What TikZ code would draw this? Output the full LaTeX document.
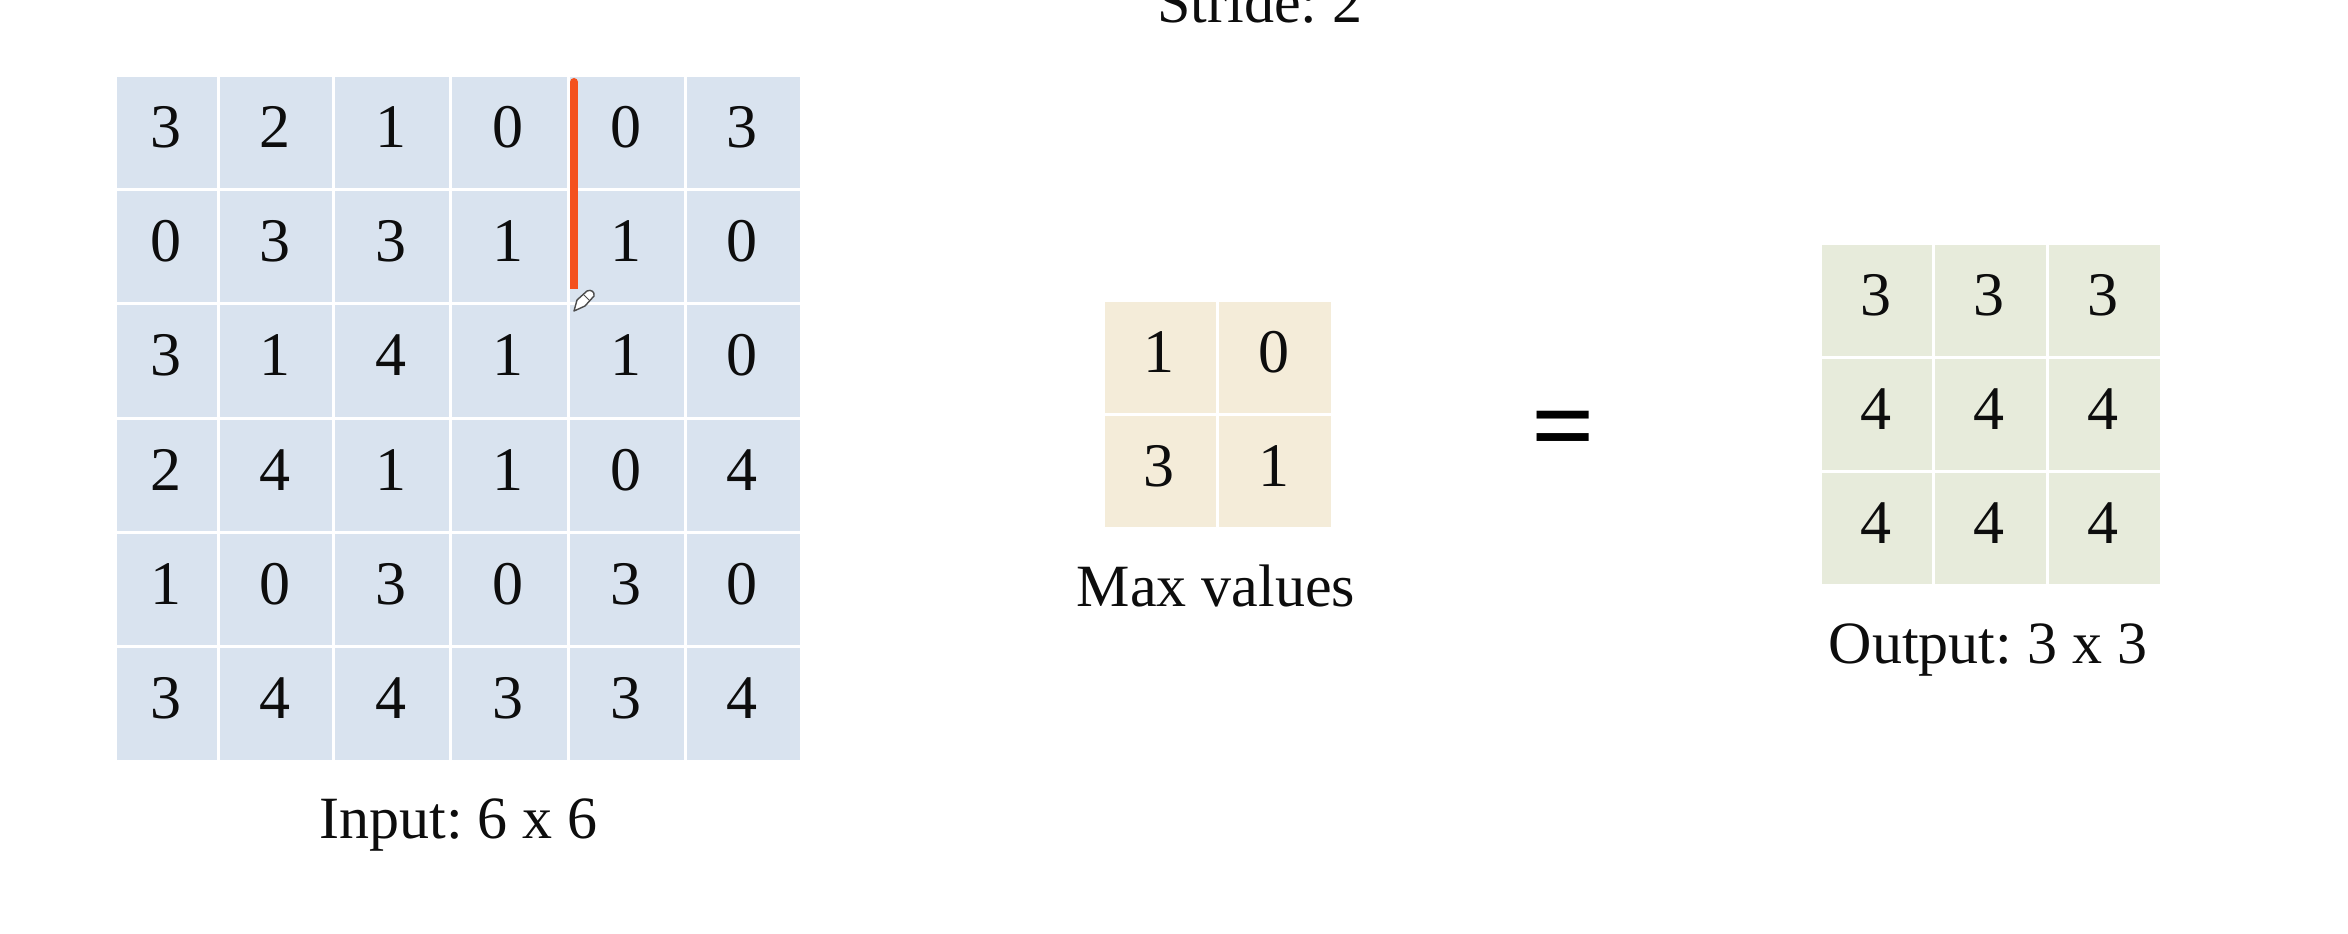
\documentclass[tikz,border=0pt]{standalone}
\usepackage{fontspec}
\setmainfont{Liberation Serif}
\frenchspacing
\definecolor{inputcell}{HTML}{D9E3EF}
\definecolor{maxcell}{HTML}{F4ECD9}
\definecolor{outcell}{HTML}{E7EBDB}
\definecolor{penred}{HTML}{F4511E}
\definecolor{inktext}{HTML}{0D0D0D}
\tikzset{
  cellbox/.style={rectangle,inner sep=0pt,outer sep=0pt,align=center,text=inktext,
    font=\fontsize{62}{62}\selectfont},
  caption/.style={anchor=base,inner sep=0pt,text=inktext,font=\fontsize{60}{60}\selectfont},
}
% name, x edges array, y edges array, column, row, value, fill
\newcommand{\gridcell}[7]{%
  \pgfmathsetmacro{\xa}{#2[#4]}%
  \pgfmathsetmacro{\xb}{#2[#4+1]}%
  \pgfmathsetmacro{\ya}{#3[#5]}%
  \pgfmathsetmacro{\yb}{#3[#5+1]}%
  \pgfmathsetmacro{\cw}{\xb-\xa-3}%
  \pgfmathsetmacro{\cd}{\yb-\ya-3-70}%
  \node[cellbox,fill=#7,text width=\cw pt,text height=70pt,text depth=\cd pt]
    (#1) at ({(\xa+\xb)/2},{(\ya+\yb)/2}) {\leavevmode\kern-3pt #6};%
}
\begin{document}
\begin{tikzpicture}[x=1pt,y=-1pt]
\useasboundingbox (0,0) rectangle (2348,934);
\def\inx{{115.5,218.5,333.5,450.5,568.5,685.5,801.5}}
\def\iny{{75.5,189.5,303.5,418.5,532.5,646.5,761.5}}
\def\mxx{{1103.5,1217.5,1332.5}}
\def\mxy{{300.5,414.5,528.5}}
\def\otx{{1820.5,1933.5,2047.5,2161.5}}
\def\oty{{243.5,357.5,471.5,585.5}}
% input grid
\foreach \row [count=\r from 0] in {{3,2,1,0,0,3},{0,3,3,1,1,0},{3,1,4,1,1,0},{2,4,1,1,0,4},{1,0,3,0,3,0},{3,4,4,3,3,4}}{
  \foreach \v [count=\c from 0] in \row {
    \gridcell{in\r\c}{\inx}{\iny}{\c}{\r}{\v}{inputcell}
  }
}
% max grid
\foreach \row [count=\r from 0] in {{1,0},{3,1}}{
  \foreach \v [count=\c from 0] in \row {
    \gridcell{mx\r\c}{\mxx}{\mxy}{\c}{\r}{\v}{maxcell}
  }
}
% output grid
\foreach \row [count=\r from 0] in {{3,3,3},{4,4,4},{4,4,4}}{
  \foreach \v [count=\c from 0] in \row {
    \gridcell{ot\r\c}{\otx}{\oty}{\c}{\r}{\v}{outcell}
  }
}
% captions
\node[caption] (stride) at (1260,23) {Stride: 2};
\node[caption] (inputlabel) at (458.5,838) {Input: 6 x 6};
\node[caption] (maxlabel) at (1216,606) {Max values};
\node[caption] (outputlabel) at (1988,663) {Output: 3 x 3};
\node[anchor=base,inner sep=0pt,text=black,font=\bfseries\fontsize{112}{112}\selectfont] (equals) at (1563,463) {=};
% red pen stroke
\coordinate (pentop) at (574,82);
\coordinate (penend) at (574,289);
\draw[penred,line width=8pt,rounded corners=0pt] (pentop) -- (penend);
\fill[penred] (pentop) circle (4pt);
% pencil cursor
\draw[fill=white,draw=black!70,line width=1.4pt,line join=round]
  (574,311) -- (577,300) -- (587,291) .. controls (591,289) and (595,292) .. (594,296)
  -- (585,306) -- cycle;
\draw[draw=black!70,line width=1pt] (583,294) -- (590,301);
\end{tikzpicture}
\end{document}
